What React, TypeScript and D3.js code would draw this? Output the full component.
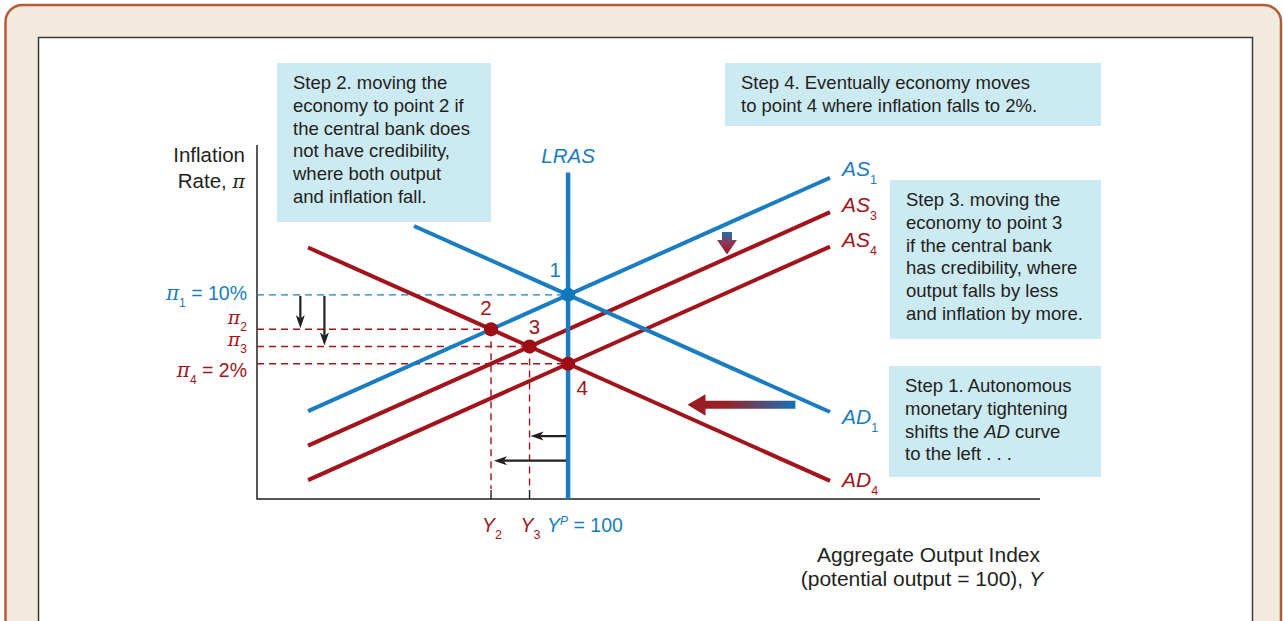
import React from "react";
import * as d3 from "d3";

// curves: output index (Y) and inflation (pi) at both ends
const curveNames = ["AS1", "AS3", "AS4", "AD1", "AD4"];
const curveY0 = [86.5, 86.5, 86.5, 92, 86.5];
const curvePi0 = [-3.5, -7.5, -11.5, 18, 15.5];
const curveY1 = [113.6, 113.6, 113.6, 113.6, 113.6];
const curvePi1 = [23.6, 19.6, 15.6, -3.6, -11.6];
const curveBlue = [true, false, false, true, false];

// equilibrium points 1..4
const pointLabels = ["1", "2", "3", "4"];
const pointOutput = [100, 96, 98, 100];
const pointInflation = [10, 6, 4, 2];

const potentialOutput = 100;
const lrasTop = 24.2;

// black shift arrows
const downArrowOutput = [86.1, 87.35];
const downArrowFrom = [10, 10];
const downArrowTo = [6, 4];
const leftArrowInflation = [-6.4, -9.25];
const leftArrowFrom = [99.9, 99.9];
const leftArrowTo = [98.05, 96.15];

const W = 1283;
const H = 621;
const plot = { left: 257, right: 1040, top: 145, bottom: 499 };

const blue = "#1a7cc1";
const red = "#a3131b";
const ink = "#231f20";
const boxFill = "#cceaf2";
const sans = "'Liberation Sans', Arial, Helvetica, sans-serif";
const serif = "'DejaVu Serif', 'Liberation Serif', serif";

const x = d3.scaleLinear().domain([83.85, 124.5]).range([plot.left, plot.right]);
const y = d3.scaleLinear().domain([-13.7, 27.4]).range([plot.bottom, plot.top]);

// line with a narrow filled head at (x2,y2)
function arrow(x1: number, y1: number, x2: number, y2: number, len = 13, half = 4.5) {
  const a = Math.atan2(y2 - y1, x2 - x1);
  const bx = x2 - len * Math.cos(a);
  const by = y2 - len * Math.sin(a);
  const nx = -Math.sin(a) * half;
  const ny = Math.cos(a) * half;
  const mx = x2 - len * 0.75 * Math.cos(a);
  const my = y2 - len * 0.75 * Math.sin(a);
  return {
    line: `M${x1},${y1}L${mx},${my}`,
    head: `M${x2},${y2}L${bx + nx},${by + ny}L${mx},${my}L${bx - nx},${by - ny}Z`,
  };
}

const Box = ({ x0, y0, w, h, lines, tx, ty }: any) => (
  <g>
    <rect x={x0} y={y0} width={w} height={h} fill={boxFill} />
    <text x={tx} y={ty} fontFamily={sans} fontSize={18.5} fill={ink}>
      {lines.map((l: any, i: number) => (
        <tspan key={i} x={tx} y={ty + i * 22.8}>
          {l}
        </tspan>
      ))}
    </text>
  </g>
);

const Pi = ({ size = 20 }: { size?: number }) => (
  <tspan fontFamily={serif} fontStyle="italic" fontSize={size}>
    π
  </tspan>
);

const App = () => {
  const curveLine = d3
    .line<[number, number]>()
    .x((d) => x(d[0]))
    .y((d) => y(d[1]));

  const labelY = [176, 212, 247, 424, 487];

  // gradient arrows
  const bigY = y(-2.75);
  const bigX1 = x(111.8);
  const bigX2 = x(106.2);
  const smX = x(108.25);
  const smY1 = y(17.3);
  const smY2 = y(14.7);

  return (
    <svg width={W} height={H} style={{ position: "absolute", left: 0, top: 0 }}>
      <defs>
        <linearGradient id="gBig" x1="0" x2="1" y1="0" y2="0">
          <stop offset="0%" stopColor="#9a1a20" />
          <stop offset="35%" stopColor="#962228" />
          <stop offset="100%" stopColor="#1670b5" />
        </linearGradient>
        <linearGradient id="gSmall" x1="0" x2="0" y1="0" y2="1">
          <stop offset="0%" stopColor="#1670b5" />
          <stop offset="45%" stopColor="#8a3a5a" />
          <stop offset="100%" stopColor="#a3131b" />
        </linearGradient>
      </defs>

      {/* frame */}
      <rect x={5.5} y={5} width={1275.5} height={720} rx={17} fill="#f2eadc" stroke="#b85a38" strokeWidth={2.5} />
      <rect x={38.5} y={37.5} width={1214} height={700} fill="#fff" stroke="#3a3a3a" strokeWidth={1.5} />

      {/* step boxes */}
      <Box
        x0={277}
        y0={63}
        w={214}
        h={159}
        tx={293}
        ty={89}
        lines={[
          "Step 2. moving the",
          "economy to point 2 if",
          "the central bank does",
          "not have credibility,",
          "where both output",
          "and inflation fall.",
        ]}
      />
      <Box
        x0={725}
        y0={63}
        w={376}
        h={63}
        tx={741}
        ty={89}
        lines={["Step 4. Eventually economy moves", "to point 4 where inflation falls to 2%."]}
      />
      <Box
        x0={890}
        y0={180}
        w={211}
        h={159}
        tx={906}
        ty={206}
        lines={[
          "Step 3. moving the",
          "economy to point 3",
          "if the central bank",
          "has  credibility, where",
          "output falls by less",
          "and inflation by more.",
        ]}
      />
      <Box
        x0={889}
        y0={366}
        w={212}
        h={111}
        tx={905}
        ty={392}
        lines={[
          "Step 1. Autonomous",
          "monetary tightening",
          <>
            shifts the <tspan fontStyle="italic">AD</tspan> curve
          </>,
          "to the left . . .",
        ]}
      />

      {/* axes */}
      <path
        d={`M${plot.left},${plot.top}V${plot.bottom}H${plot.right}`}
        fill="none"
        stroke={ink}
        strokeWidth={1.5}
      />

      {/* dashed guides */}
      {pointLabels.map((p, i) => (
        <line
          key={"h" + p}
          x1={plot.left}
          x2={x(pointOutput[i])}
          y1={y(pointInflation[i])}
          y2={y(pointInflation[i])}
          stroke={i === 0 ? blue : red}
          strokeWidth={1.4}
          strokeDasharray="7,5"
        />
      ))}
      {[1, 2].map((i) => (
        <g key={"v" + i}>
          <line
            x1={x(pointOutput[i])}
            x2={x(pointOutput[i])}
            y1={y(pointInflation[i])}
            y2={plot.bottom - 10}
            stroke={red}
            strokeWidth={1.4}
            strokeDasharray="7,5"
          />
          <line
            x1={x(pointOutput[i])}
            x2={x(pointOutput[i])}
            y1={plot.bottom - 9}
            y2={plot.bottom}
            stroke={ink}
            strokeWidth={1.4}
          />
        </g>
      ))}

      {/* curves */}
      {curveNames.map((n, i) => (
        <path
          key={n}
          d={curveLine([
            [curveY0[i], curvePi0[i]],
            [curveY1[i], curvePi1[i]],
          ])!}
          fill="none"
          stroke={curveBlue[i] ? blue : red}
          strokeWidth={4}
        />
      ))}
      {curveNames.map((n, i) => (
        <text
          key={"l" + n}
          x={842}
          y={labelY[i]}
          fontFamily={sans}
          fontSize={21}
          fontStyle="italic"
          fill={curveBlue[i] ? blue : red}
        >
          {n.slice(0, 2)}
          <tspan dy={8} fontSize={12.5} fontStyle="normal">
            {n.slice(2)}
          </tspan>
        </text>
      ))}

      {/* LRAS */}
      <line
        x1={x(potentialOutput)}
        x2={x(potentialOutput)}
        y1={y(lrasTop)}
        y2={plot.bottom}
        stroke={blue}
        strokeWidth={4.5}
      />
      <text
        x={x(potentialOutput)}
        y={163}
        textAnchor="middle"
        fontFamily={sans}
        fontSize={20.5}
        fontStyle="italic"
        fill={blue}
      >
        LRAS
      </text>

      {/* black shift arrows */}
      {downArrowOutput.map((o, i) => {
        const a = arrow(x(o), y(downArrowFrom[i]) + 1, x(o), y(downArrowTo[i]) - 1);
        return (
          <g key={"da" + i}>
            <path d={a.line} stroke={ink} strokeWidth={2.2} fill="none" />
            <path d={a.head} fill={ink} />
          </g>
        );
      })}
      {leftArrowInflation.map((p, i) => {
        const a = arrow(x(leftArrowFrom[i]), y(p), x(leftArrowTo[i]), y(p));
        return (
          <g key={"la" + i}>
            <path d={a.line} stroke={ink} strokeWidth={2.2} fill="none" />
            <path d={a.head} fill={ink} />
          </g>
        );
      })}

      {/* gradient arrows */}
      <path
        d={`M${bigX1},${bigY - 4}H${bigX2 + 18}V${bigY - 10.5}L${bigX2},${bigY}L${bigX2 + 18},${bigY + 11}V${bigY + 4}H${bigX1}Z`}
        fill="url(#gBig)"
      />
      <path
        d={`M${smX - 5},${smY1}H${smX + 5}V${smY1 + 8}H${smX + 10}L${smX},${smY2}L${smX - 10},${smY1 + 8}H${smX - 5}Z`}
        fill="url(#gSmall)"
      />

      {/* points */}
      {pointLabels.map((p, i) => (
        <circle
          key={"c" + p}
          cx={x(pointOutput[i])}
          cy={y(pointInflation[i])}
          r={7}
          fill={i === 0 ? "#0d78bf" : "#9e0c14"}
        />
      ))}
      {pointLabels.map((p, i) => {
        const dx = [-13, -5, 5, 14][i];
        const dy = [-18, -14, -13, 31][i];
        return (
          <text
            key={"t" + p}
            x={x(pointOutput[i]) + dx}
            y={y(pointInflation[i]) + dy}
            textAnchor="middle"
            fontFamily={sans}
            fontSize={20.5}
            fill={i === 0 ? blue : red}
          >
            {p}
          </text>
        );
      })}

      {/* y labels */}
      <text x={245} y={162} textAnchor="end" fontFamily={sans} fontSize={20.5} fill={ink}>
        Inflation
      </text>
      <text x={245} y={188} textAnchor="end" fontFamily={sans} fontSize={20.5} fill={ink}>
        Rate, <Pi size={19} />
      </text>
      <text x={247} y={y(10) + 5} textAnchor="end" fontFamily={sans} fontSize={19.5} fill={blue}>
        <Pi />
        <tspan dy={7} fontSize={12}>1</tspan>
        <tspan dy={-7}> = 10%</tspan>
      </text>
      <text x={247} y={324} textAnchor="end" fontFamily={sans} fontSize={19.5} fill={red}>
        <Pi size={19} />
        <tspan dy={7} fontSize={12}>2</tspan>
      </text>
      <text x={247} y={346} textAnchor="end" fontFamily={sans} fontSize={19.5} fill={red}>
        <Pi size={19} />
        <tspan dy={7} fontSize={12}>3</tspan>
      </text>
      <text x={247} y={y(2) + 13} textAnchor="end" fontFamily={sans} fontSize={19.5} fill={red}>
        <Pi />
        <tspan dy={7} fontSize={12}>4</tspan>
        <tspan dy={-7}> = 2%</tspan>
      </text>

      {/* x labels */}
      <text x={x(96) - 9} y={532} fontFamily={sans} fontSize={19.5} fill={red}>
        <tspan fontStyle="italic">Y</tspan>
        <tspan dy={7} fontSize={12.5}>2</tspan>
      </text>
      <text x={x(98) - 9} y={532} fontFamily={sans} fontSize={19.5} fill={red}>
        <tspan fontStyle="italic">Y</tspan>
        <tspan dy={7} fontSize={12.5}>3</tspan>
      </text>
      <text x={x(100) - 21} y={532} fontFamily={sans} fontSize={19.5} fill={blue}>
        <tspan fontStyle="italic">Y</tspan>
        <tspan dy={-7} fontSize={12} fontStyle="italic">P</tspan>
        <tspan dy={7}> = 100</tspan>
      </text>
      <text x={1040} y={562} textAnchor="end" fontFamily={sans} fontSize={21} fill={ink}>
        Aggregate Output Index
      </text>
      <text x={1043} y={586} textAnchor="end" fontFamily={sans} fontSize={21} fill={ink}>
        (potential output = 100), <tspan fontStyle="italic">Y</tspan>
      </text>
    </svg>
  );
};

export default App;
